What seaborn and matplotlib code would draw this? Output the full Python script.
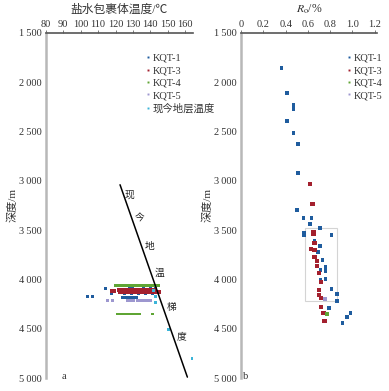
import matplotlib
matplotlib.use('Agg')
import matplotlib.pyplot as plt
import seaborn as sns
import pandas as pd
from matplotlib.patches import Rectangle

sns.set_style('white')
plt.rcParams['font.family'] = ['Liberation Serif', 'Noto Sans CJK SC']
plt.rcParams['mathtext.fontset'] = 'stix'

# ---- data ----
wells = ['KQT-1', 'KQT-3', 'KQT-4', 'KQT-5']
present_label = '现今地层温度'
well_colors = {'KQT-1': '#1f5c9e', 'KQT-3': '#a3202e', 'KQT-4': '#5fa534',
               'KQT-5': '#9d97cf', present_label: '#3bb4d8'}

depth_ticks = [1500, 2000, 2500, 3000, 3500, 4000, 4500, 5000]
depth_tick_labels = ['1\u2009500', '2\u2009000', '2\u2009500', '3\u2009000',
                     '3\u2009500', '4\u2009000', '4\u2009500', '5\u2009000']
temp_ticks = [80, 90, 100, 110, 120, 130, 140, 150, 160]
ro_ticks = [0, 0.2, 0.4, 0.6, 0.8, 1.0, 1.2]
ro_tick_labels = ['0', '0.2', '0.4', '0.6', '0.8', '1.0', '1.2']

# (a) fluid inclusion homogenisation temperature
kqt1_temp = [103.9, 106.7, 114.4, 117.5, 125.0, 129.0, 133.0, 137.0, 141.0,
             123.8, 125.0, 126.2, 127.4, 128.6, 129.8, 131.0, 132.2,
             128.0, 130.0, 136.0, 140.0, 143.0]
kqt1_depth = [4170, 4170, 4095, 4140, 4140, 4140, 4140, 4140, 4140,
              4185, 4185, 4185, 4185, 4185, 4185, 4185, 4185,
              4085, 4085, 4085, 4085, 4085]

kqt3_temp = [118.0, 119.0, 122.0, 123.0, 124.0, 125.0, 126.0, 127.0, 128.0,
             129.0, 130.0, 131.0, 132.0, 133.0, 134.0, 135.0, 136.0, 137.0,
             138.0, 139.0, 140.0, 141.0, 142.0,
             122.5, 124.5, 126.5, 128.5, 130.5, 132.5, 134.5, 136.5, 138.5,
             140.5, 142.5, 145.0]
kqt3_depth = [4120, 4120, 4105, 4105, 4105, 4105, 4105, 4105, 4105,
              4105, 4105, 4105, 4105, 4105, 4105, 4105, 4105, 4105,
              4105, 4105, 4105, 4105, 4105,
              4122, 4122, 4122, 4122, 4122, 4122, 4122, 4122, 4122,
              4122, 4122, 4125]

kqt4_temp = [119.8, 121.0, 122.2, 123.4, 124.6, 125.8, 127.0, 128.2, 129.4,
             130.6, 131.8, 133.0, 134.2, 135.4, 136.6, 137.8, 139.0, 140.2,
             141.4, 142.6, 143.8, 144.8,
             120.9, 122.0, 123.2, 124.4, 125.6, 126.8, 128.0, 129.2, 130.4,
             131.6, 132.8, 134.0, 141.4]
kqt4_depth = [4060, 4060, 4060, 4060, 4060, 4060, 4060, 4060, 4060,
              4060, 4060, 4060, 4060, 4060, 4060, 4060, 4060, 4060,
              4060, 4060, 4060, 4060,
              4350, 4350, 4350, 4350, 4350, 4350, 4350, 4350, 4350,
              4350, 4350, 4350, 4350]

kqt5_temp = [115.2, 118.1, 126.6, 127.8, 129.0, 130.2, 132.5, 133.7, 134.9,
             136.1, 137.3, 138.5, 139.7, 140.2]
kqt5_depth = [4210, 4210, 4210, 4210, 4210, 4210, 4210, 4210, 4210,
              4210, 4210, 4210, 4210, 4210]

present_temp = [142.0, 143.0, 143.0, 150.5, 164.0]
present_depth = [4110, 4170, 4235, 4510, 4800]

gradient_temp = [122.6, 161.3]
gradient_depth = [3040, 4990]
gradient_chars = ['现', '今', '地', '温', '梯', '度']
gradient_char_temp = [128.3, 134.0, 139.7, 145.3, 152.2, 157.8]
gradient_char_depth = [3143, 3386, 3670, 3934, 4289, 4584]

# (b) vitrinite reflectance
kqt1_ro = [0.36, 0.41, 0.47, 0.47, 0.41, 0.47, 0.51, 0.51, 0.50, 0.56, 0.63,
           0.62, 0.71, 0.565, 0.565, 0.81, 0.66, 0.71, 0.69, 0.73, 0.76,
           0.715, 0.76, 0.76, 0.715, 0.81, 0.86, 0.86, 0.79, 0.98, 0.95, 0.91]
kqt1_ro_depth = [1855, 2108, 2230, 2270, 2392, 2514, 2625, 2920, 3295, 3376,
                 3376, 3437, 3478, 3528, 3548, 3548, 3609, 3660, 3720, 3802,
                 3873, 3903, 3913, 3995, 4005, 4096, 4147, 4217, 4289, 4339,
                 4380, 4441]
kqt3_ro = [0.62, 0.64, 0.65, 0.65, 0.66, 0.63, 0.66, 0.66, 0.68, 0.68, 0.70,
           0.715, 0.70, 0.70, 0.715, 0.72, 0.74, 0.75]
kqt3_ro_depth = [3030, 3234, 3518, 3535, 3630, 3690, 3700, 3771, 3812, 3862,
                 3934, 4025, 4106, 4157, 4187, 4278, 4339, 4420]
kqt4_ro = [0.77]
kqt4_ro_depth = [4350]
kqt5_ro = [0.75]
kqt5_ro_depth = [4197]

box_ro = [0.57, 0.86]
box_depth = [3478, 4217]

# ---- tables ----
df_a = pd.concat([
    pd.DataFrame({'temp': kqt1_temp, 'depth': kqt1_depth, 'well': 'KQT-1'}),
    pd.DataFrame({'temp': kqt3_temp, 'depth': kqt3_depth, 'well': 'KQT-3'}),
    pd.DataFrame({'temp': kqt4_temp, 'depth': kqt4_depth, 'well': 'KQT-4'}),
    pd.DataFrame({'temp': kqt5_temp, 'depth': kqt5_depth, 'well': 'KQT-5'}),
    pd.DataFrame({'temp': present_temp, 'depth': present_depth, 'well': present_label}),
], ignore_index=True)

df_b = pd.concat([
    pd.DataFrame({'ro': kqt1_ro, 'depth': kqt1_ro_depth, 'well': 'KQT-1'}),
    pd.DataFrame({'ro': kqt3_ro, 'depth': kqt3_ro_depth, 'well': 'KQT-3'}),
    pd.DataFrame({'ro': kqt4_ro, 'depth': kqt4_ro_depth, 'well': 'KQT-4'}),
    pd.DataFrame({'ro': kqt5_ro, 'depth': kqt5_ro_depth, 'well': 'KQT-5'}),
], ignore_index=True)

fig = plt.figure(figsize=(3.89, 3.91), dpi=100)
ax1 = fig.add_axes([0.118, 0.033, 0.378, 0.883])
ax2 = fig.add_axes([0.62, 0.033, 0.349, 0.883])

sizes_a = {'KQT-1': 4.5, 'KQT-3': 9, 'KQT-4': 4.5, 'KQT-5': 4.5, present_label: 4.5}
sns.scatterplot(data=df_a, x='temp', y='depth', hue='well', size='well',
                hue_order=wells + [present_label], palette=well_colors,
                size_order=wells + [present_label], sizes=sizes_a,
                marker='s', linewidth=0, ax=ax1)
ax1.plot(gradient_temp, gradient_depth, color='black', lw=1.1)
for ch, t, d in zip(gradient_chars, gradient_char_temp, gradient_char_depth):
    ax1.text(t, d, ch, fontsize=7, ha='center', va='center', color='#222')

sizes_b = {'KQT-1': 6, 'KQT-3': 10, 'KQT-4': 9, 'KQT-5': 9}
sns.scatterplot(data=df_b, x='ro', y='depth', hue='well', size='well',
                hue_order=wells, size_order=wells, sizes=sizes_b,
                palette=well_colors, marker='s', linewidth=0, ax=ax2)
ax2.add_patch(Rectangle((box_ro[0], box_depth[0]), box_ro[1] - box_ro[0],
                        box_depth[1] - box_depth[0], fill=False,
                        edgecolor='#d4d4d4', lw=0.8, zorder=0))


def style_axis(ax):
    ax.spines['right'].set_visible(False)
    ax.spines['bottom'].set_visible(False)
    ax.spines['left'].set_color('#b8b8b8')
    ax.spines['left'].set_linewidth(1.8)
    ax.spines['top'].set_color('#555555')
    ax.spines['top'].set_linewidth(1.2)
    ax.xaxis.tick_top()
    ax.xaxis.set_label_position('top')
    ax.tick_params(axis='both', direction='out', length=2, width=0.6,
                   colors='#666', labelcolor='#333', labelsize=7.5, pad=1)
    ax.set_ylim(5000, 1500)
    ax.set_yticks(depth_ticks)
    ax.set_yticklabels(depth_tick_labels)
    ax.set_ylabel('深度/m', fontsize=8, labelpad=1, color='#333')


style_axis(ax1)
ax1.set_xlim(80, 164.5)
ax1.set_xticks(temp_ticks)
ax1.set_xlabel('盐水包裹体温度/℃', fontsize=8.5, labelpad=5, color='#333')
ax1.text(0.122, 0.005, 'a', transform=ax1.transAxes, fontsize=7.5,
         ha='center', va='center', color='#333')

style_axis(ax2)
ax2.set_xlim(0, 1.22)
ax2.set_xticks(ro_ticks)
ax2.set_xticklabels(ro_tick_labels)
ax2.set_xlabel(r'$R_\mathrm{o}$/%', fontsize=8.5, labelpad=5, color='#333')
ax2.text(0.03, 0.005, 'b', transform=ax2.transAxes, fontsize=7.5,
         ha='center', va='center', color='#333')

legend_kw = dict(frameon=False, title=None, fontsize=7.5, handletextpad=0.2,
                 labelspacing=0.3, borderpad=0, handlelength=0.5)
sns.move_legend(ax1, 'upper left', bbox_to_anchor=(0.64, 0.955), **legend_kw)
sns.move_legend(ax2, 'upper left', bbox_to_anchor=(0.74, 0.955), **legend_kw)
for ax in (ax1, ax2):
    leg = ax.get_legend()
    for t in leg.get_texts():
        t.set_color('#333')
    for h in leg.legend_handles:
        if hasattr(h, 'set_markersize'):
            h.set_markersize(1.4)
        elif hasattr(h, 'set_sizes'):
            h.set_sizes([1.8])

fig.savefig('out.png', dpi=100)
